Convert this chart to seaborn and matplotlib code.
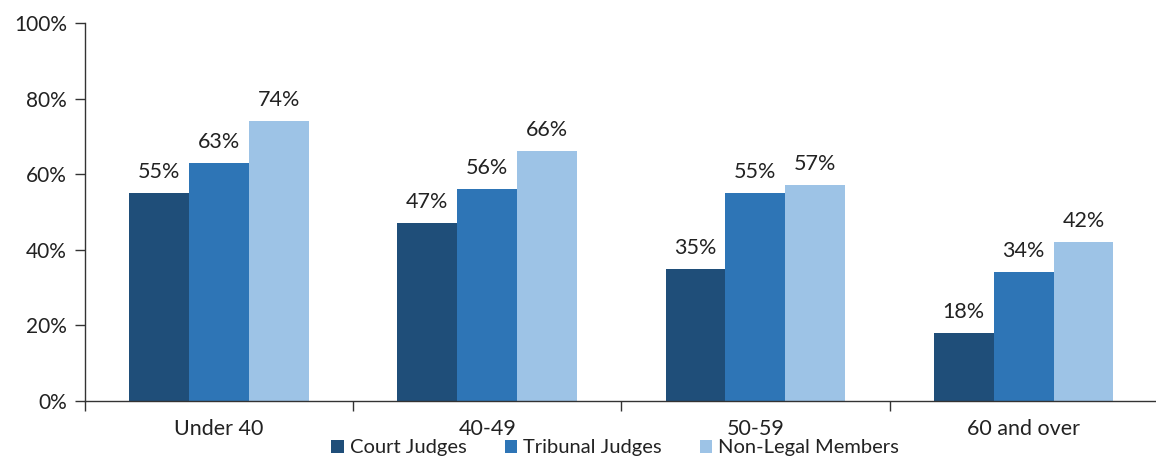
import matplotlib
matplotlib.use("Agg")
import matplotlib.pyplot as plt
import seaborn as sns
import pandas as pd
from matplotlib.ticker import FixedLocator, FuncFormatter

categories = ["Under 40", "40-49", "50-59", "60 and over"]
series = ["Court Judges", "Tribunal Judges", "Non-Legal Members"]
court = [55, 47, 35, 18]
tribunal = [63, 56, 55, 34]
nonlegal = [74, 66, 57, 42]
colors = ["#1F4E79", "#2E75B6", "#9DC3E6"]

rows = []
for s, vals in zip(series, [court, tribunal, nonlegal]):
    for c, v in zip(categories, vals):
        rows.append({"Age": c, "Group": s, "Value": v})
df = pd.DataFrame(rows)

sns.set_theme(style="white")
plt.rcParams["font.family"] = ["Lato", "DejaVu Sans"]

fig = plt.figure(figsize=(11.56, 4.58), dpi=100)
ax = fig.add_axes([0.0735, 0.1245, 0.928, 0.8255])

sns.barplot(data=df, x="Age", y="Value", hue="Group", order=categories,
            hue_order=series, palette=colors, width=0.67, gap=0,
            saturation=1, ax=ax, errorbar=None, legend=True, linewidth=0)

for cont in ax.containers:
    ax.bar_label(cont, labels=[f"{int(v)}%" for v in cont.datavalues],
                 padding=8, fontsize=15.5, color="#222222")

ax.set_ylim(0, 100)
ax.set_xlim(-0.5, 3.5)
ax.set_yticks([0, 20, 40, 60, 80, 100])
ax.yaxis.set_major_formatter(FuncFormatter(lambda v, p: f"{int(v)}%"))
ax.set_xlabel("")
ax.set_ylabel("")
ax.tick_params(axis="y", which="major", length=7, width=1, color="#333333",
               labelsize=15, labelcolor="#222222", left=True, direction="out", pad=6)
ax.tick_params(axis="x", which="major", length=0, labelsize=15.5,
               labelcolor="#222222", pad=13)
ax.xaxis.set_minor_locator(FixedLocator([-0.5, 0.5, 1.5, 2.5, 3.5]))
ax.tick_params(axis="x", which="minor", length=7, width=1, color="#333333",
               bottom=True, direction="out")

for side in ["top", "right"]:
    ax.spines[side].set_visible(False)
for side in ["left", "bottom"]:
    ax.spines[side].set_color("#333333")
    ax.spines[side].set_linewidth(1)

handles, labels = ax.get_legend_handles_labels()
ax.get_legend().remove()
fig.legend(handles, labels, loc="center", bbox_to_anchor=(615 / 1156, 1 - 448 / 458),
           ncol=3, frameon=False, fontsize=14.5, handlelength=0.6, handleheight=0.6,
           handletextpad=0.3, columnspacing=1.9, labelcolor="#222222",
           borderpad=0, borderaxespad=0)

fig.savefig("out.png", dpi=100)
